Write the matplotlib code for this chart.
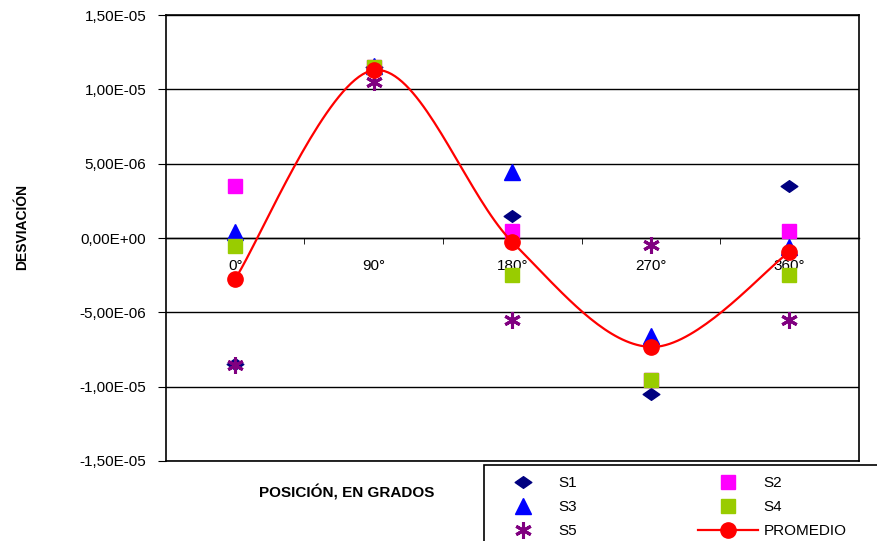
import matplotlib
matplotlib.use("Agg")
import matplotlib.pyplot as plt
import numpy as np
from matplotlib.path import Path
from matplotlib.patches import Rectangle
from matplotlib.ticker import FuncFormatter

plt.rcParams['font.family'] = ['Liberation Sans', 'DejaVu Sans']

# datos
posiciones = ["0°", "90°", "180°", "270°", "360°"]
s1 = [-8.5e-6, 11.5e-6, 1.48e-6, -10.5e-6, 3.5e-6]
s2 = [3.5e-6, 11.5e-6, 0.47e-6, -9.55e-6, 0.47e-6]
s3 = [0.4e-6, 11.6e-6, 4.44e-6, -6.6e-6, -0.6e-6]
s4 = [-0.55e-6, 11.5e-6, -2.5e-6, -9.55e-6, -2.5e-6]
s5 = [-8.55e-6, 10.5e-6, -5.5e-6, -0.47e-6, -5.5e-6]
promedio = [-2.74e-6, 11.3e-6, -0.27e-6, -7.33e-6, -0.94e-6]

x = np.arange(len(posiciones))

# curva suavizada tipo Excel (bezier entre los puntos del promedio)
def suavizar(xs, ys, n=40):
    px = np.concatenate([[xs[0]], xs, [xs[-1]]])
    py = np.concatenate([[ys[0]], ys, [ys[-1]]])
    cx, cy = [], []
    t = np.linspace(0, 1, n)
    for i in range(1, len(px) - 2):
        p0 = np.array([px[i], py[i]])
        p3 = np.array([px[i + 1], py[i + 1]])
        c1 = p0 + (np.array([px[i + 1], py[i + 1]]) - np.array([px[i - 1], py[i - 1]])) / 6
        c2 = p3 - (np.array([px[i + 2], py[i + 2]]) - np.array([px[i], py[i]])) / 6
        b = ((1 - t) ** 3)[:, None] * p0 + (3 * (1 - t) ** 2 * t)[:, None] * c1 \
            + (3 * (1 - t) * t ** 2)[:, None] * c2 + (t ** 3)[:, None] * p3
        cx.extend(b[:, 0]); cy.extend(b[:, 1])
    return np.array(cx), np.array(cy)

rombo = Path([(-1, 0), (0, 0.7), (1, 0), (0, -0.7), (-1, 0)],
             [Path.MOVETO, Path.LINETO, Path.LINETO, Path.LINETO, Path.CLOSEPOLY])

fig = plt.figure(figsize=(8.78, 5.41), dpi=100)
ax = fig.add_axes([0.189, 0.148, 0.789, 0.824])

ax.set_ylim(-1.5e-5, 1.5e-5)
ax.set_xlim(-0.5, 4.5)
ax.set_yticks(np.arange(-1.5e-5, 1.51e-5, 5e-6))
ax.yaxis.set_major_formatter(FuncFormatter(lambda v, p: ("%.2E" % (0 if abs(v) < 1e-12 else v)).replace('.', ',')))
ax.grid(axis='y', color='black', linewidth=1)
ax.set_axisbelow(True)

ax.plot(x, s1, linestyle='none', marker=rombo, markersize=12, color='#000080', label='S1', zorder=3)
ax.plot(x, s2, linestyle='none', marker='s', markersize=10.5, color='#FF00FF', label='S2', zorder=3)
ax.plot(x, s3, linestyle='none', marker='^', markersize=11, color='#0000FF', label='S3', zorder=3)
ax.plot(x, s4, linestyle='none', marker='s', markersize=10.5, color='#99CC00', label='S4', zorder=3)
ax.plot(x, s5, linestyle='none', marker=(6, 2, 0), markersize=12, markeredgewidth=2.2,
        color='#800080', label='S5', zorder=3)
sx, sy = suavizar(x.astype(float), np.array(promedio))
ax.plot(sx, sy, color='#FF0000', linewidth=1.6, zorder=4)
ax.plot(x, promedio, linestyle='none', marker='o', markersize=11, color='#FF0000', zorder=5)
# entrada de leyenda para el promedio (linea + marcador)
ax.plot([], [], color='#FF0000', linewidth=1.6, marker='o', markersize=11, label='PROMEDIO')

# eje de categorias en cero
ax.spines['bottom'].set_position(('data', 0))
ax.spines['bottom'].set_linewidth(1)
ax.axhline(-1.5e-5, color='black', linewidth=1.2, clip_on=False)
ax.spines['top'].set_linewidth(1.2)
ax.spines['left'].set_linewidth(1.2)
ax.spines['right'].set_linewidth(1.2)
ax.set_xticks(x)
ax.set_xticklabels(posiciones)
ax.set_xticks(np.arange(0.5, 4.5, 1), minor=True)
ax.tick_params(axis='x', which='major', length=0, pad=15, labelsize=11)
ax.tick_params(axis='x', which='minor', length=4, direction='out', color='black')
ax.tick_params(axis='y', length=6, direction='out', pad=8, labelsize=11)

fig.text(0.025, 0.58, "DESVIACIÓN", rotation=90, ha='center', va='center',
         fontsize=10, fontweight='bold')
fig.text(0.395, 0.089, "POSICIÓN, EN GRADOS", ha='center', va='center',
         fontsize=11, fontweight='bold')

# marco de la leyenda (se sale del borde de la figura)
fig.patches.append(Rectangle((484 / 878, -0.2), 0.8, 1.2 - 465 / 541, transform=fig.transFigure,
                             facecolor='white', edgecolor='black', linewidth=1.2, zorder=10))

handles, labels = ax.get_legend_handles_labels()
orden = [0, 2, 4, 1, 3, 5]
leg = fig.legend([handles[i] for i in orden], [labels[i] for i in orden],
                 ncol=2, loc='upper left', bbox_to_anchor=(0.551, 0.137),
                 frameon=False, fontsize=11,
                 handlelength=3.9, handletextpad=0.4, columnspacing=7.9,
                 labelspacing=0.65, borderpad=0.6, borderaxespad=0)
leg.set_zorder(11)

fig.savefig("out.png", dpi=100)
